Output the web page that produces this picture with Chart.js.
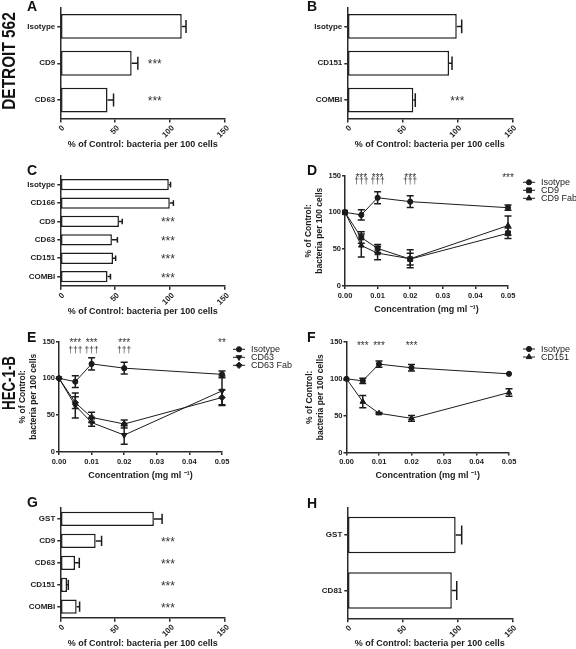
<!DOCTYPE html>
<html>
<head>
<meta charset="utf-8">
<title>Bacterial adherence figure</title>
<script src="https://cdn.jsdelivr.net/npm/chart.js@4.4.1/dist/chart.umd.min.js"></script>
<style>
  html, body { margin:0; padding:0; background:#fff; }
  #fig { position:relative; width:576px; height:649px; overflow:hidden; background:#fff; }
  #fig canvas { position:absolute; left:0; top:0; }
  .lbl { position:absolute; font-family:"Liberation Sans", Arial, sans-serif; font-weight:bold; color:#111;
         white-space:nowrap; font-size:14px; line-height:14px; }
  .row { position:absolute; font-family:"Liberation Sans", Arial, sans-serif; font-weight:bold; color:#111;
         white-space:nowrap; font-size:19px; line-height:19px; transform-origin:50% 50%; }
</style>
</head>
<body>
<div id="fig">
  <canvas id="cA" width="576" height="649"></canvas>
  <canvas id="cB" width="576" height="649"></canvas>
  <canvas id="cC" width="576" height="649"></canvas>
  <canvas id="cD" width="576" height="649"></canvas>
  <canvas id="cE" width="576" height="649"></canvas>
  <canvas id="cF" width="576" height="649"></canvas>
  <canvas id="cG" width="576" height="649"></canvas>
  <canvas id="cH" width="576" height="649"></canvas>

  <div class="lbl" style="left:27px;top:-1px">A</div>
  <div class="lbl" style="left:307px;top:-1.5px">B</div>
  <div class="lbl" style="left:27px;top:163px">C</div>
  <div class="lbl" style="left:307px;top:163px">D</div>
  <div class="lbl" style="left:27px;top:330px">E</div>
  <div class="lbl" style="left:307px;top:330px">F</div>
  <div class="lbl" style="left:27px;top:495px">G</div>
  <div class="lbl" style="left:307px;top:495.5px">H</div>

  <div class="row" style="left:7.5px;top:61px;transform:translate(-50%,-50%) rotate(-90deg) scaleX(0.81)">DETROIT 562</div>
  <div class="row" style="left:7.5px;top:383px;transform:translate(-50%,-50%) rotate(-90deg) scaleX(0.70)">HEC-1-B</div>
</div>
<script>
// ===================== DATA =====================
// concentration (mg/ml) for the dose-response panels
const doses = [0, 0.005, 0.01, 0.02, 0.05];
const markedDoses = [0.005, 0.01, 0.02, 0.05];

// Panel A – Detroit 562
const catsA = ['Isotype', 'CD9', 'CD63'];
const valsA = [110.6, 65.0, 43.0];
const errsA = [3.9, 5.6, 5.5];
const sigA  = ['', '***', '***'];

// Panel B – Detroit 562
const catsB = ['Isotype', 'CD151', 'COMBI'];
const valsB = [99.5, 92.5, 60.0];
const errsB = [4.5, 2.7, 1.8];
const sigB  = ['', '', '***'];

// Panel C – HEC-1-B
const catsC = ['Isotype', 'CD166', 'CD9', 'CD63', 'CD151', 'COMBI'];
const valsC = [98.8, 99.7, 53.4, 47.0, 48.0, 43.0];
const errsC = [1.6, 3.3, 3.0, 5.0, 2.4, 2.7];
const sigC  = ['', '', '***', '***', '***', '***'];

// Panel D
const isoD      = [100, 96.5, 119.8, 114.5, 106.3];
const isoDErr   = [0, 7.0, 8.3, 8.0, 3.6];
const cd9D      = [100, 65.8, 51.0, 36.5, 71.6];
const cd9DErr   = [0, 7.7, 5.4, 8.0, 7.0];
const cd9FabD   = [100, 55.0, 44.6, 37.0, 82.0];
const cd9FabDErr= [0, 15.5, 9.0, 12.3, 13.0];
const starsD    = ['***', '***', '***', '***'];
const daggersD  = ['\u2020\u2020\u2020', '\u2020\u2020\u2020', '\u2020\u2020\u2020', ''];

// Panel E
const isoE       = [100, 95.5, 119.6, 113.8, 105.4];
const isoEErr    = [0, 8.0, 8.3, 8.0, 4.5];
const cd63E      = [100, 63.0, 40.0, 23.0, 83.0];
const cd63EErr   = [0, 17.0, 5.0, 12.5, 20.0];
const cd63FabE   = [100, 67.0, 47.0, 38.0, 74.0];
const cd63FabEErr= [0, 8.0, 7.0, 5.5, 10.0];
const starsE     = ['***', '***', '***', '**'];
const daggersE   = ['\u2020\u2020\u2020', '\u2020\u2020\u2020', '\u2020\u2020\u2020', ''];

// Panel F
const isoF      = [100, 97.3, 120.0, 115.0, 106.8];
const isoFErr   = [0, 3.6, 4.3, 4.5, 0];
const cd151F    = [100, 69.0, 53.2, 46.4, 81.4];
const cd151FErr = [0, 8.4, 1.0, 3.9, 5.0];
const starsF    = ['***', '***', '***', ''];

// Panel G – HEC-1-B, recombinant proteins
const catsG = ['GST', 'CD9', 'CD63', 'CD151', 'COMBI'];
const valsG = [85.2, 32.2, 13.4, 6.1, 14.9];
const errsG = [7.5, 5.4, 3.9, 1.2, 2.7];
const sigG  = ['', '***', '***', '***', '***'];

// Panel H
const catsH = ['GST', 'CD81'];
const valsH = [98.5, 95.0];
const errsH = [5.5, 4.5];
const sigH  = ['', ''];

// Tick values
const pctTicks = [0, 50, 100, 150];
const doseTicks = [0, 0.01, 0.02, 0.03, 0.04, 0.05];

// ===================== STYLE / HELPERS =====================
const FONT = '"Liberation Sans", Arial, Helvetica, sans-serif';
const INK = '#1c1c1c';
const STAR = '#333333';
const AX = '#2a2a2a';
const PAGE_W = 576, PAGE_H = 649;

function makeErrPlugin(o) {
  return {
    id: 'errBars',
    afterDatasetsDraw(chart) {
      const ctx = chart.ctx;
      const horiz = chart.options.indexAxis === 'y';
      const xs = chart.scales.x, ys = chart.scales.y;
      chart.data.datasets.forEach((ds, di) => {
        if (!ds.errors) return;
        const meta = chart.getDatasetMeta(di);
        ctx.save();
        ctx.strokeStyle = INK; ctx.lineWidth = o.width;
        meta.data.forEach((el, i) => {
          const e = ds.errors[i];
          if (!e) return;
          const raw = ds.data[i];
          ctx.beginPath();
          if (horiz) {
            const v = (typeof raw === 'object') ? raw.x : raw;
            const x1 = xs.getPixelForValue(v + e);
            const cap = el.height * o.capFrac / 2;
            ctx.moveTo(el.x, el.y); ctx.lineTo(x1, el.y);
            ctx.moveTo(x1, el.y - cap); ctx.lineTo(x1, el.y + cap);
          } else {
            const v = raw.y;
            const y0 = ys.getPixelForValue(v - e), y1 = ys.getPixelForValue(v + e);
            ctx.moveTo(el.x, y0); ctx.lineTo(el.x, y1);
            ctx.moveTo(el.x - o.cap, y0); ctx.lineTo(el.x + o.cap, y0);
            ctx.moveTo(el.x - o.cap, y1); ctx.lineTo(el.x + o.cap, y1);
          }
          ctx.stroke();
        });
        ctx.restore();
      });
    }
  };
}

// text annotations positioned through the chart scales
function makeAnnotPlugin(items) {
  return {
    id: 'annot',
    afterDatasetsDraw(chart) {
      const ctx = chart.ctx;
      items.forEach(it => {
        const px = chart.scales.x.getPixelForValue(it.x);
        const py = chart.scales.y.getPixelForValue(it.y);
        ctx.save();
        ctx.font = it.size + 'px ' + FONT;
        ctx.fillStyle = STAR; ctx.textAlign = 'center'; ctx.textBaseline = 'alphabetic';
        ctx.fillText(it.text, px, py + it.size * it.k);
        ctx.restore();
      });
    }
  };
}

function drawMarker(ctx, ds, x, y) {
  const opts = { pointStyle: ds.pointStyle, rotation: ds.pointRotation || 0, radius: ds.pointRadius, borderWidth: 1 };
  if (Chart.helpers && Chart.helpers.drawPoint) {
    Chart.helpers.drawPoint(ctx, opts, x, y);
  } else {
    ctx.beginPath(); ctx.arc(x, y, ds.pointRadius, 0, Math.PI * 2); ctx.fill(); ctx.stroke();
  }
}

function makeLegendPlugin(lg) {
  return {
    id: 'sideLegend',
    afterDraw(chart) {
      const ctx = chart.ctx;
      chart.data.datasets.forEach((ds, i) => {
        const y = lg.y + i * lg.dy;
        ctx.save();
        ctx.strokeStyle = INK; ctx.fillStyle = INK; ctx.lineWidth = 1;
        ctx.beginPath(); ctx.moveTo(lg.x, y); ctx.lineTo(lg.x + lg.len, y); ctx.stroke();
        drawMarker(ctx, ds, lg.x + lg.len / 2, y);
        ctx.font = lg.size + 'px ' + FONT;
        ctx.textAlign = 'left'; ctx.textBaseline = 'middle';
        ctx.fillText(ds.label, lg.x + lg.len + lg.gap, y + 0.5);
        ctx.restore();
      });
    }
  };
}

function axisBase() {
  return {
    grid: { drawOnChartArea: false, drawTicks: true, color: AX, lineWidth: 1.5, offset: false },
    border: { display: true, color: AX, width: 1.5 }
  };
}

// ---------- horizontal bar panel ----------
function barPanel(id, cats, vals, errs, sig, g) {
  const Wy = g.L - 2;
  const Hx = g.titleOff + 4.5;
  const items = [];
  sig.forEach((s, i) => { if (s) items.push({ x: g.starX, y: i, text: s, size: 12, k: 0.42 }); });
  const xb = axisBase(), yb = axisBase();
  return new Chart(document.getElementById(id), {
    type: 'bar',
    data: {
      labels: cats,
      datasets: [{
        data: vals, errors: errs,
        backgroundColor: '#ffffff', borderColor: INK, borderWidth: 1.5, borderSkipped: false,
        categoryPercentage: g.cat, barPercentage: 1
      }]
    },
    options: {
      indexAxis: 'y', responsive: false, animation: false, devicePixelRatio: 1,
      layout: { padding: { left: g.L - Wy, top: g.T, right: PAGE_W - g.R, bottom: PAGE_H - g.B - Hx } },
      plugins: { legend: { display: false }, tooltip: { enabled: false } },
      scales: {
        x: {
          type: 'linear', position: 'bottom', min: pctTicks[0], max: pctTicks[pctTicks.length - 1],
          afterBuildTicks: s => { s.ticks = pctTicks.map(v => ({ value: v })); },
          ticks: { minRotation: 45, maxRotation: 45, padding: 1, labelOffset: 3,
                   font: { family: FONT, size: 8, weight: 'bold' }, color: INK },
          grid: Object.assign(xb.grid, { tickLength: 4 }),
          border: xb.border,
          title: { display: true, text: '% of Control: bacteria per 100 cells', padding: 0, color: INK,
                   font: { family: FONT, size: 9, weight: 'bold', lineHeight: 1 } },
          afterFit: s => { s.height = Hx; s.paddingLeft = 0; s.paddingRight = 0; s.paddingTop = 0; s.paddingBottom = 0; }
        },
        y: {
          type: 'category', position: 'left', offset: true,
          ticks: { autoSkip: false, padding: 2, font: { family: FONT, size: 8, weight: 'bold' }, color: INK },
          grid: Object.assign(yb.grid, { tickLength: 3 }),
          border: yb.border,
          afterFit: s => { s.width = Wy; s.paddingTop = 0; s.paddingBottom = 0; s.paddingLeft = 0; s.paddingRight = 0; }
        }
      }
    },
    plugins: [makeErrPlugin({ capFrac: g.capFrac, width: 1.5 }), makeAnnotPlugin(items)]
  });
}

// ---------- dose-response panel ----------
function linePanel(id, series, stars, daggers, g) {
  const Wy = 42;
  const Hx = g.titleOff + 4.5;
  const items = [];
  stars.forEach((s, i) => { if (s) items.push({ x: markedDoses[i], y: g.starY, text: s, size: 10, k: 0.5 }); });
  (daggers || []).forEach((s, i) => { if (s) items.push({ x: markedDoses[i], y: g.dagY, text: s, size: 8.5, k: 0.3 }); });
  const xb = axisBase(), yb = axisBase();
  return new Chart(document.getElementById(id), {
    type: 'line',
    data: {
      datasets: series.map(s => ({
        label: s.label,
        data: doses.map((d, i) => ({ x: d, y: s.vals[i] })),
        errors: s.errs,
        borderColor: INK, borderWidth: 1, backgroundColor: INK,
        pointBackgroundColor: INK, pointBorderColor: INK, pointBorderWidth: 1,
        pointStyle: s.style, pointRotation: s.rot || 0, pointRadius: s.r,
        tension: 0, clip: false, fill: false
      }))
    },
    options: {
      responsive: false, animation: false, devicePixelRatio: 1,
      layout: { padding: { left: g.L - Wy, top: g.T, right: PAGE_W - g.R, bottom: PAGE_H - g.B - Hx } },
      plugins: { legend: { display: false }, tooltip: { enabled: false } },
      scales: {
        x: {
          type: 'linear', position: 'bottom', min: doseTicks[0], max: doseTicks[doseTicks.length - 1],
          afterBuildTicks: s => { s.ticks = doseTicks.map(v => ({ value: v })); },
          ticks: { maxRotation: 0, minRotation: 0, padding: 2, callback: v => Number(v).toFixed(2),
                   font: { family: FONT, size: 7.5, weight: 'bold' }, color: INK },
          grid: Object.assign(xb.grid, { tickLength: 3 }),
          border: xb.border,
          title: { display: true, text: 'Concentration (mg ml \u207B\u00B9)', padding: 0, color: INK,
                   font: { family: FONT, size: 9, weight: 'bold', lineHeight: 1 } },
          afterFit: s => { s.height = Hx; s.paddingLeft = 0; s.paddingRight = 0; s.paddingTop = 0; s.paddingBottom = 0; }
        },
        y: {
          type: 'linear', position: 'left', min: pctTicks[0], max: pctTicks[pctTicks.length - 1],
          afterBuildTicks: s => { s.ticks = pctTicks.map(v => ({ value: v })); },
          ticks: { padding: 1, font: { family: FONT, size: 7.5, weight: 'bold' }, color: INK },
          grid: Object.assign(yb.grid, { tickLength: 3 }),
          border: yb.border,
          title: { display: true, text: ['% of Control:', 'bacteria per 100 cells'], padding: 0, color: INK,
                   font: { family: FONT, size: 8.5, weight: 'bold', lineHeight: 1.3 } },
          afterFit: s => { s.width = Wy; s.paddingTop = 0; s.paddingBottom = 0; s.paddingLeft = 0; s.paddingRight = 0; }
        }
      }
    },
    plugins: [makeErrPlugin({ cap: 3.5, width: 1.5 }), makeAnnotPlugin(items),
              makeLegendPlugin({ x: g.legX, y: g.legY, dy: 8, len: 12, gap: 6, size: 9 })]
  });
}

// ===================== BUILD =====================
barPanel('cA', catsA, valsA, errsA, sigA,
  { L: 60.3, R: 225, T: 8, B: 118.5, cat: 0.676, capFrac: 0.52, starX: 86, titleOff: 26.5 });
barPanel('cB', catsB, valsB, errsB, sigB,
  { L: 347.3, R: 512.3, T: 8, B: 118.5, cat: 0.676, capFrac: 0.55, starX: 100, titleOff: 26.5 });
barPanel('cC', catsC, valsC, errsC, sigC,
  { L: 60.3, R: 225, T: 175.5, B: 285.8, cat: 0.615, capFrac: 0.5, starX: 98, titleOff: 25.5 });
barPanel('cG', catsG, valsG, errsG, sigG,
  { L: 60.3, R: 225, T: 508, B: 617.7, cat: 0.65, capFrac: 0.72, starX: 98, titleOff: 26.3 });
barPanel('cH', catsH, valsH, errsH, sigH,
  { L: 347.3, R: 512.3, T: 507.3, B: 618.3, cat: 0.66, capFrac: 0.52, starX: 98, titleOff: 25.7 });

linePanel('cD', [
    { label: 'Isotype', vals: isoD, errs: isoDErr, style: 'circle', r: 2.6 },
    { label: 'CD9', vals: cd9D, errs: cd9DErr, style: 'rect', r: 3.4 },
    { label: 'CD9 Fab', vals: cd9FabD, errs: cd9FabDErr, style: 'triangle', r: 3.2 }
  ], starsD, daggersD,
  { L: 345, R: 508, T: 175.5, B: 286, titleOff: 23.5, starY: 150, dagY: 141.5, legX: 523, legY: 182.3 });

linePanel('cE', [
    { label: 'Isotype', vals: isoE, errs: isoEErr, style: 'circle', r: 2.6 },
    { label: 'CD63', vals: cd63E, errs: cd63EErr, style: 'triangle', rot: 180, r: 3.2 },
    { label: 'CD63 Fab', vals: cd63FabE, errs: cd63FabEErr, style: 'rectRot', r: 3.2 }
  ], starsE, daggersE,
  { L: 59, R: 222, T: 341.5, B: 452, titleOff: 23.7, starY: 150.5, dagY: 138, legX: 233, legY: 349.3 });

linePanel('cF', [
    { label: 'Isotype', vals: isoF, errs: isoFErr, style: 'circle', r: 2.6 },
    { label: 'CD151', vals: cd151F, errs: cd151FErr, style: 'triangle', r: 3.2 }
  ], starsF, null,
  { L: 346.5, R: 509, T: 342, B: 452.5, titleOff: 23.5, starY: 147.5, dagY: 140, legX: 523, legY: 349 });
</script>
</body>
</html>
